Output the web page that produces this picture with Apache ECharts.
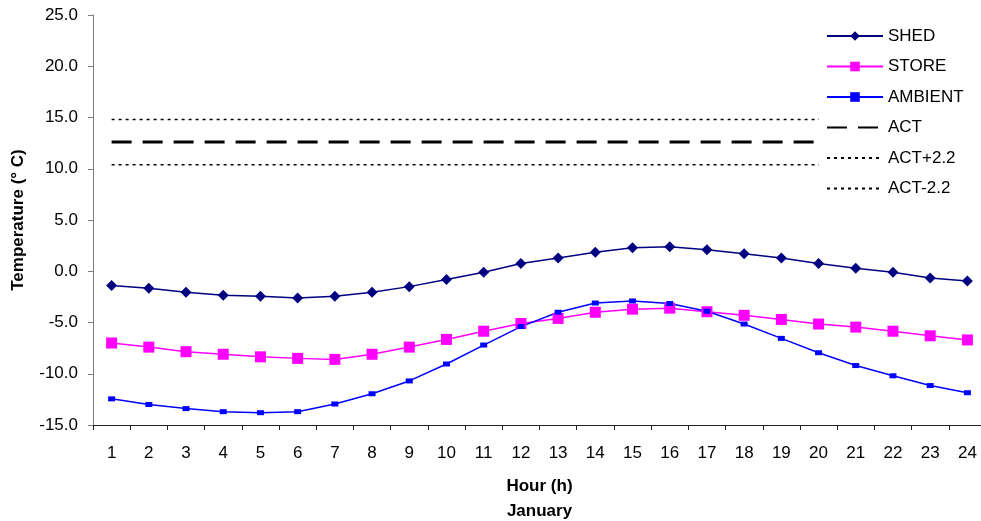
<!DOCTYPE html>
<html>
<head>
<meta charset="utf-8">
<title>Hourly temperature – January</title>
<script src="https://cdn.jsdelivr.net/npm/echarts@6/dist/echarts.min.js"></script>
<style>
  html, body { margin: 0; padding: 0; background: #fff; }
  #chart { width: 981px; height: 521px; }
</style>
</head>
<body>
<div id="chart"></div>
<script>
// Hours of the day (x categories)
const hours = ['1','2','3','4','5','6','7','8','9','10','11','12',
               '13','14','15','16','17','18','19','20','21','22','23','24'];

// Hourly mean temperatures, °C
const shed = [-1.4, -1.65, -2.05, -2.35, -2.45, -2.6, -2.45, -2.05, -1.5, -0.8,
              -0.1, 0.75, 1.3, 1.85, 2.3, 2.4, 2.1, 1.7, 1.3, 0.75,
              0.3, -0.1, -0.65, -0.95];
const store = [-7.0, -7.4, -7.85, -8.1, -8.35, -8.5, -8.6, -8.1, -7.4, -6.65,
               -5.85, -5.1, -4.6, -4.0, -3.7, -3.6, -3.95, -4.3, -4.7, -5.15,
               -5.45, -5.85, -6.3, -6.7];
const ambient = [-12.45, -13.0, -13.4, -13.7, -13.8, -13.7, -12.95, -11.95, -10.7, -9.05,
                 -7.2, -5.4, -4.0, -3.1, -2.9, -3.15, -3.9, -5.15, -6.55, -7.95,
                 -9.2, -10.2, -11.15, -11.85];

// ACT set point and its ±2.2 band
const actLevel = 12.6;
const actBand = 2.2;
const act = hours.map(() => actLevel);
const actPlus = hours.map(() => +(actLevel + actBand).toFixed(1));
const actMinus = hours.map(() => +(actLevel - actBand).toFixed(1));

// Y axis range
const yMin = -15, yMax = 25, yStep = 5;

const FONT = '"Liberation Sans", Arial, sans-serif';
const FS = 17;

const chart = echarts.init(document.getElementById('chart'), null, { renderer: 'canvas' });

function lineSeries(name, data, color, symbol, size, width) {
  return {
    name, type: 'line', data,
    symbol, symbolSize: size, showSymbol: true,
    lineStyle: { color, width },
    itemStyle: { color, borderWidth: 0 },
    emphasis: { disabled: true },
    animation: false, z: 3
  };
}

function refSeries(name, data, type, width) {
  return {
    name, type: 'line', data,
    symbol: 'none', showSymbol: false,
    lineStyle: { color: '#000', width, type },
    itemStyle: { color: 'rgba(0,0,0,0)', opacity: 0 },
    emphasis: { disabled: true },
    animation: false, z: 2
  };
}

chart.setOption({
  backgroundColor: '#fff',
  textStyle: { fontFamily: FONT },
  grid: { left: 93, right: -5, top: 15, bottom: 96, containLabel: false, outerBoundsMode: 'none' },
  legend: {
    orient: 'vertical',
    left: 819, top: 19.5,
    padding: [8, 30, 8, 7],
    backgroundColor: '#fff',
    itemWidth: 56, itemHeight: 12, itemGap: 13.5,
    textStyle: { fontFamily: FONT, fontSize: FS, color: '#000' },
    data: ['SHED', 'STORE', 'AMBIENT', 'ACT', 'ACT+2.2', 'ACT-2.2'],
    z: 10
  },
  xAxis: {
    type: 'category',
    data: hours,
    boundaryGap: true,
    name: 'Hour (h)\nJanuary',
    nameLocation: 'middle',
    nameGap: 49,
    nameTextStyle: { fontFamily: FONT, fontSize: FS, fontWeight: 'bold', color: '#000', lineHeight: 25 },
    axisLine: { onZero: false, lineStyle: { color: '#222', width: 1 } },
    axisTick: { show: true, interval: 0, length: 5, lineStyle: { color: '#222' } },
    axisLabel: { interval: 0, margin: 20, fontFamily: FONT, fontSize: FS, color: '#000' },
    splitLine: { show: false }
  },
  yAxis: {
    type: 'value',
    min: yMin, max: yMax, interval: yStep,
    name: 'Temperature (° C)',
    nameLocation: 'middle',
    nameGap: 66,
    nameRotate: 90,
    nameTextStyle: { fontFamily: FONT, fontSize: FS, fontWeight: 'bold', color: '#000' },
    axisLine: { show: true, lineStyle: { color: '#7f7f7f', width: 1 } },
    axisTick: { show: true, length: 5, lineStyle: { color: '#7f7f7f' } },
    axisLabel: { margin: 15, fontFamily: FONT, fontSize: FS, color: '#000',
                 formatter: v => v.toFixed(1) },
    splitLine: { show: false }
  },
  series: [
    lineSeries('SHED', shed, '#000080', 'diamond', 11, 1.5),
    lineSeries('STORE', store, '#ff00ff', 'rect', 11, 1.5),
    lineSeries('AMBIENT', ambient, '#0000ff', 'rect', [7, 5], 1.5),
    refSeries('ACT', act, [20, 11], 3),
    refSeries('ACT+2.2', actPlus, [3, 4], 1.5),
    refSeries('ACT-2.2', actMinus, [3, 4], 1.5)
  ]
});
</script>
</body>
</html>
